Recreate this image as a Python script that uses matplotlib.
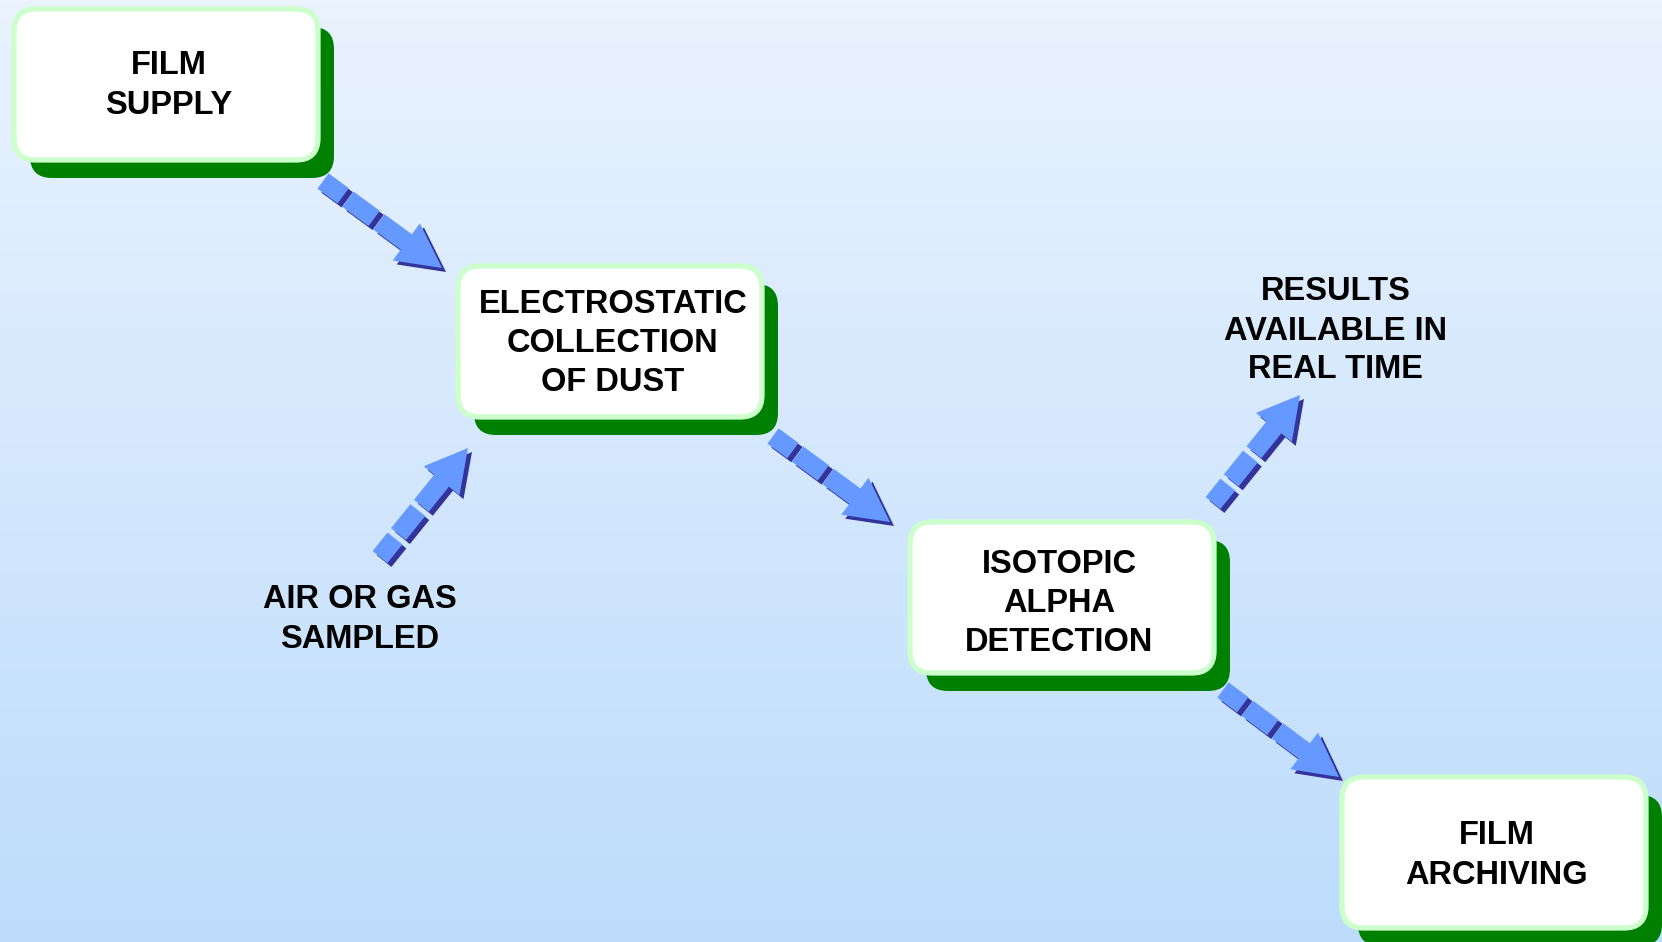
import numpy as np
import matplotlib.pyplot as plt
from matplotlib.patches import FancyBboxPatch, Polygon

W, H = 1662, 942

# boxes: label lines, left, top (pixels)
box_labels = [["FILM", "SUPPLY"],
              ["ELECTROSTATIC", "COLLECTION", "OF DUST"],
              ["ISOTOPIC", "ALPHA", "DETECTION"],
              ["FILM", "ARCHIVING"]]
box_left = [14, 458, 910, 1342]
box_top = [9, 266, 522, 777]
box_w, box_h = 304, 151
text_dx = [0, 0, -6, 0]
text_dy = [1, 2, 6, 3]

# free labels
free_labels = [["AIR OR GAS", "SAMPLED"],
               ["RESULTS", "AVAILABLE IN", "REAL TIME"]]
free_x = [360, 1336]
free_y = [600, 292]

# arrows: tail -> tip
arrow_tail = [(323, 181), (380, 557), (773, 436), (1213, 503), (1223, 690)]
arrow_tip = [(442, 268), (468, 448), (890, 522), (1300, 395), (1339, 777)]

fig = plt.figure(figsize=(W / 100, H / 100), dpi=100)
ax = fig.add_axes([0, 0, 1, 1])
ax.set_xlim(0, W)
ax.set_ylim(H, 0)
ax.axis('off')

# background gradient
top = np.array([0xea, 0xf3, 0xfe]) / 255
bot = np.array([0xbd, 0xdc, 0xfc]) / 255
t = np.linspace(0, 1, 256)[:, None]
grad = top + (bot - top) * t
ax.imshow(grad[:, None, :], extent=[0, W, H, 0], aspect='auto', zorder=0)

FONT = dict(family=['Liberation Sans', 'DejaVu Sans'], fontweight='bold',
            fontsize=23.5, color='black', ha='center', va='center')
LINE = 39


def put_lines(lines, cx, y0, z=5):
    for i, s in enumerate(lines):
        ax.text(cx, y0 + i * LINE, s, zorder=z, **FONT)


for lines, x0, y0, dx, dy in zip(box_labels, box_left, box_top, text_dx, text_dy):
    r = 22
    sh = FancyBboxPatch((x0 + 16 + r, y0 + 18 + r), box_w - 2 * r, box_h - 2 * r,
                        boxstyle="round,pad=%d" % r, fc='#008000', ec='none', zorder=2)
    ax.add_patch(sh)
    bx = FancyBboxPatch((x0 + r, y0 + r), box_w - 2 * r, box_h - 2 * r,
                        boxstyle="round,pad=%d" % r, fc='white', ec='#ccffcc',
                        lw=3.8, zorder=3)
    ax.add_patch(bx)
    cx = x0 + box_w / 2 + 3 + dx
    cy = y0 + box_h / 2 + dy
    put_lines(lines, cx, cy - LINE * (len(lines) - 1) / 2)

for lines, cx, y0 in zip(free_labels, free_x, free_y):
    put_lines(lines, cx, y0)

# dashed 3D arrows
segs = [(0.0, 0.17), (0.21, 0.43), (0.47, 0.73)]
hw, hh = 9.5, 23


def arrow_parts(p0, p1):
    p0 = np.array(p0, float)
    p1 = np.array(p1, float)
    d = p1 - p0
    L = np.hypot(*d)
    u = d / L
    v = np.array([-u[1], u[0]])
    parts = []
    for a, b in segs:
        pts = [p0 + u * a * L + v * hw, p0 + u * b * L + v * hw,
               p0 + u * b * L - v * hw, p0 + u * a * L - v * hw]
        parts.append(pts)
    hb = 0.70
    parts.append([p0 + u * hb * L + v * hh, p1, p0 + u * hb * L - v * hh])
    return parts


for p0, p1 in zip(arrow_tail, arrow_tip):
    for pts in arrow_parts(p0, p1):
        pts = np.array(pts)
        ax.add_patch(Polygon(pts + [4, 4], closed=True, fc='#333399', ec='none', zorder=6))
    for pts in arrow_parts(p0, p1):
        ax.add_patch(Polygon(np.array(pts), closed=True, fc='#6699ff', ec='none', zorder=7))

fig.savefig('out.png', dpi=100)
